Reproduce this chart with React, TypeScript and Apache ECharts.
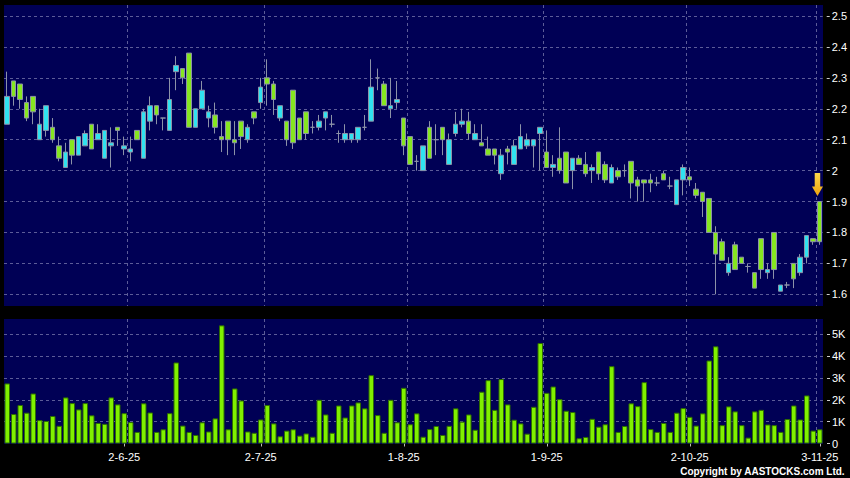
import React, { useEffect, useRef } from 'react';
import * as echarts from 'echarts';

// Daily candles (open, close, low, high) — index 0 .. 125
const opens = [
  2.15, 2.29, 2.28, 2.22, 2.24, 2.10, 2.13, 2.14, 2.08, 2.01,
  2.10, 2.05, 2.08, 2.15, 2.10, 2.04, 2.08, 2.14, 2.07, 2.06,
  2.13, 2.04, 2.16, 2.21, 2.17, 2.13, 2.32, 2.33, 2.38, 2.14,
  2.20, 2.17, 2.18, 2.11, 2.16, 2.10, 2.16, 2.10, 2.19, 2.22,
  2.30, 2.28, 2.17, 2.16, 2.26, 2.17, 2.19, 2.14, 2.14, 2.17,
  2.15, 2.12, 2.10, 2.10, 2.10, 2.14, 2.16, 2.30, 2.28, 2.20,
  2.22, 2.17, 2.11, 2.03, 2.00, 2.14, 2.10, 2.14, 2.02, 2.12,
  2.15, 2.16, 2.10, 2.09, 2.07, 2.07, 1.99, 2.07, 2.02, 2.07,
  2.08, 2.08, 2.12, 2.06, 2.01, 2.04, 2.06, 2.00, 2.04, 2.02,
  2.00, 2.06, 2.02, 1.96, 2.00, 2.00, 2.03, 1.97, 1.97, 1.97,
  1.96, 1.99, 1.95, 1.89, 1.97, 1.98, 1.94, 1.93, 1.91, 1.80,
  1.77, 1.67, 1.76, 1.72, 1.69, 1.67, 1.78, 1.67, 1.80, 1.61,
  1.63, 1.70, 1.67, 1.72, 1.78, 1.90,
];
const closes = [
  2.24, 2.24, 2.23, 2.17, 2.19, 2.15, 2.21, 2.10, 2.04, 2.06,
  2.05, 2.11, 2.12, 2.07, 2.12, 2.13, 2.09, 2.13, 2.08, 2.07,
  2.10, 2.19, 2.21, 2.18, 2.17, 2.23, 2.34, 2.30, 2.14, 2.20,
  2.26, 2.19, 2.14, 2.10, 2.10, 2.09, 2.11, 2.14, 2.17, 2.27,
  2.28, 2.23, 2.21, 2.10, 2.09, 2.10, 2.12, 2.14, 2.16, 2.19,
  2.15, 2.12, 2.12, 2.12, 2.14, 2.14, 2.27, 2.30, 2.21, 2.21,
  2.23, 2.08, 2.02, 2.03, 2.08, 2.04, 2.10, 2.10, 2.10, 2.15,
  2.16, 2.12, 2.12, 2.08, 2.05, 2.05, 2.05, 2.06, 2.08, 2.11,
  2.10, 2.10, 2.14, 2.01, 2.02, 2.00, 1.96, 2.04, 2.02, 1.99,
  2.01, 1.99, 1.97, 2.01, 1.98, 2.00, 1.96, 1.95, 1.96, 1.96,
  1.96, 1.97, 1.95, 1.97, 2.01, 1.97, 1.92, 1.90, 1.80, 1.73,
  1.71, 1.70, 1.68, 1.70, 1.69, 1.62, 1.68, 1.68, 1.68, 1.63,
  1.63, 1.65, 1.72, 1.79, 1.77, 1.77,
];
const lows = [
  2.15, 2.21, 2.20, 2.16, 2.15, 2.10, 2.11, 2.09, 2.03, 2.01,
  2.02, 2.05, 2.08, 2.07, 2.10, 2.04, 2.01, 2.08, 2.05, 2.03,
  2.10, 2.04, 2.13, 2.15, 2.13, 2.13, 2.26, 2.28, 2.14, 2.14,
  2.20, 2.14, 2.12, 2.06, 2.05, 2.05, 2.07, 2.09, 2.15, 2.20,
  2.21, 2.18, 2.16, 2.08, 2.07, 2.10, 2.10, 2.12, 2.13, 2.13,
  2.14, 2.09, 2.09, 2.09, 2.09, 2.13, 2.16, 2.26, 2.21, 2.17,
  2.20, 2.05, 2.02, 2.00, 2.00, 2.04, 2.05, 2.05, 2.02, 2.11,
  2.14, 2.10, 2.10, 2.08, 2.05, 2.02, 1.97, 2.02, 2.02, 2.07,
  2.07, 2.01, 2.00, 2.01, 1.98, 1.99, 1.96, 1.94, 2.02, 1.98,
  1.96, 1.97, 1.96, 1.96, 1.97, 1.98, 1.91, 1.90, 1.90, 1.93,
  1.95, 1.97, 1.94, 1.89, 1.92, 1.95, 1.91, 1.85, 1.80, 1.60,
  1.71, 1.66, 1.68, 1.70, 1.67, 1.62, 1.65, 1.65, 1.65, 1.61,
  1.62, 1.62, 1.66, 1.70, 1.76, 1.76,
];
const highs = [
  2.32, 2.29, 2.28, 2.24, 2.24, 2.20, 2.21, 2.17, 2.11, 2.09,
  2.10, 2.11, 2.13, 2.15, 2.15, 2.13, 2.14, 2.14, 2.11, 2.11,
  2.13, 2.20, 2.24, 2.21, 2.17, 2.30, 2.37, 2.33, 2.38, 2.20,
  2.29, 2.21, 2.22, 2.16, 2.16, 2.16, 2.16, 2.15, 2.19, 2.30,
  2.36, 2.29, 2.21, 2.16, 2.26, 2.17, 2.19, 2.16, 2.18, 2.19,
  2.18, 2.13, 2.15, 2.12, 2.14, 2.18, 2.36, 2.33, 2.29, 2.30,
  2.29, 2.17, 2.11, 2.05, 2.08, 2.16, 2.15, 2.14, 2.12, 2.19,
  2.20, 2.19, 2.15, 2.15, 2.11, 2.07, 2.07, 2.08, 2.10, 2.15,
  2.12, 2.10, 2.14, 2.13, 2.05, 2.14, 2.06, 2.04, 2.05, 2.06,
  2.02, 2.06, 2.03, 2.02, 2.01, 2.02, 2.03, 1.98, 1.97, 1.99,
  1.98, 2.00, 1.98, 1.97, 2.02, 2.01, 1.96, 1.93, 1.91, 1.82,
  1.78, 1.72, 1.77, 1.72, 1.70, 1.67, 1.78, 1.70, 1.80, 1.63,
  1.64, 1.70, 1.73, 1.79, 1.78, 1.90,
];
// Daily volume (shares)
const volumes = [
  2750, 1350, 1760, 1410, 2290, 1070, 1030, 1260, 810, 2110,
  1850, 1560, 1850, 1290, 940, 900, 2110, 1790, 1390, 980,
  530, 1840, 1420, 530, 650, 1390, 3710, 820, 530, 390,
  970, 550, 1150, 5410, 650, 2520, 1970, 550, 490, 1100,
  1760, 920, 330, 590, 650, 360, 460, 310, 2000, 1330,
  490, 1740, 1190, 1740, 1880, 1610, 3130, 1300, 490, 2000,
  970, 2550, 880, 1380, 310, 660, 800, 390, 810, 1610,
  1000, 1330, 630, 2370, 2900, 1540, 2950, 1790, 1090, 920,
  450, 1680, 4600, 2320, 2610, 2030, 1500, 1440, 240, 300,
  1130, 770, 880, 3540, 530, 800, 1840, 1710, 2810, 660,
  530, 940, 530, 1410, 1620, 1220, 820, 1380, 3800, 4450,
  840, 1700, 1470, 840, 270, 1470, 1540, 870, 840, 530,
  1120, 1740, 1100, 2200, 590, 650,
];
const dateLabels = ['2-6-25', '2-7-25', '1-8-25', '1-9-25', '2-10-25', '3-11-25'];
const dateLabelIndex = [18, 39, 61, 83, 105, 125];
const monthGridIndex = [19, 40, 62, 83, 105, 125];

export default function App() {
  const ref = useRef<HTMLDivElement>(null);
  useEffect(() => {
    const chart = echarts.init(ref.current!, null, { renderer: 'svg' });
    const categories = closes.map((_, i) => String(i));
    const ohlc = closes.map((c, i) => [opens[i], c, lows[i], highs[i]]);
    const labelOf: Record<number, string> = {};
    dateLabelIndex.forEach((idx, k) => { labelOf[idx] = dateLabels[k]; });
    const font = '"Liberation Sans", Arial, sans-serif';
    const navy = '#000055';
    const gridLineStyle = { color: '#5c5c98', type: [3, 3] as any, width: 1 };
    const base = { left: 4, right: 27 };
    const wick = '#8c92a8';
    chart.setOption({
      animation: false,
      backgroundColor: '#000000',
      textStyle: { fontFamily: font },
      grid: [
        { ...base, top: 16, height: 278.3 },
        { ...base, top: 334.3, height: 109.2 },
        { ...base, top: 5, height: 301, show: true, backgroundColor: navy, borderWidth: 0 },
        { ...base, top: 319, height: 125, show: true, backgroundColor: navy, borderWidth: 0 },
      ],
      xAxis: [
        { type: 'category', gridIndex: 0, data: categories, show: false },
        {
          type: 'category', gridIndex: 1, data: categories, offset: 3,
          axisLine: { show: false },
          axisTick: {
            show: true, alignWithLabel: true, length: 3,
            interval: (i: number) => i in labelOf,
            lineStyle: { color: '#bbbbbb' },
          },
          axisLabel: {
            interval: (i: number) => i in labelOf,
            formatter: (_v: string, i: number) => labelOf[i] ?? '',
            color: '#ffffff', fontSize: 11, fontFamily: font, margin: 5,
          },
          splitLine: { show: false },
        },
        {
          type: 'category', gridIndex: 2, data: categories,
          axisLine: { show: false }, axisTick: { show: false }, axisLabel: { show: false },
          splitLine: {
            show: true, lineStyle: gridLineStyle, showMaxLine: false,
            interval: (i: number) => monthGridIndex.includes(i),
          },
        },
        {
          type: 'category', gridIndex: 3, data: categories,
          axisLine: { show: false }, axisTick: { show: false }, axisLabel: { show: false },
          splitLine: {
            show: true, lineStyle: gridLineStyle, showMaxLine: false,
            interval: (i: number) => monthGridIndex.includes(i),
          },
        },
      ],
      yAxis: [
        {
          type: 'value', gridIndex: 0, position: 'right', min: 1.6, max: 2.5, interval: 0.1, offset: 4,
          axisLine: { show: false },
          axisTick: { show: true, length: 3, lineStyle: { color: '#cccccc' } },
          axisLabel: { color: '#ffffff', fontSize: 11, fontFamily: font, margin: 5 },
          splitLine: { show: true, lineStyle: gridLineStyle },
        },
        {
          type: 'value', gridIndex: 1, position: 'right', min: 0, max: 5000, interval: 1000, offset: 4,
          axisLine: { show: false },
          axisTick: { show: true, length: 3, lineStyle: { color: '#cccccc' } },
          axisLabel: {
            color: '#ffffff', fontSize: 11, fontFamily: font, margin: 5,
            formatter: (v: number) => (v === 0 ? '0' : `${v / 1000}K`),
          },
          splitLine: { show: true, lineStyle: gridLineStyle, showMinLine: false },
        },
        { type: 'value', gridIndex: 2, show: false },
        { type: 'value', gridIndex: 3, show: false },
      ],
      series: [
        {
          type: 'candlestick', xAxisIndex: 0, yAxisIndex: 0, data: ohlc, barWidth: 5,
          itemStyle: {
            color: '#30e2f0', color0: '#86e620',
            borderColor: wick, borderColor0: wick, borderColorDoji: wick, borderWidth: 1,
          },
          markPoint: {
            silent: true,
            data: [{
              coord: [closes.length - 1, highs[highs.length - 1]],
              symbol: 'path://M2.5,0 L7.5,0 L7.5,13 L10,13 L5,22 L0,13 L2.5,13 Z',
              symbolSize: [11, 23],
              symbolOffset: [-2, -17],
              itemStyle: {
                color: new echarts.graphic.LinearGradient(0, 0, 0, 1, [
                  { offset: 0, color: '#ffd84a' },
                  { offset: 1, color: '#eea20c' },
                ]),
              },
              label: { show: false },
            }],
          },
        },
        {
          type: 'bar', xAxisIndex: 1, yAxisIndex: 1, data: volumes, barWidth: 5.5, clip: false,
          itemStyle: { color: '#80f000', borderColor: '#2e6e00', borderWidth: 1 },
        },
      ],
      graphic: [
        {
          type: 'text', right: 5, top: 466,
          style: {
            text: 'Copyright by AASTOCKS.com Ltd.', fill: '#ffffff',
            font: `bold 10px ${font}`,
          },
        },
      ],
    });
    return () => chart.dispose();
  }, []);
  return (
    <div
      ref={ref}
      style={{ position: 'absolute', left: 0, top: 0, width: 850, height: 478 }}
    />
  );
}
